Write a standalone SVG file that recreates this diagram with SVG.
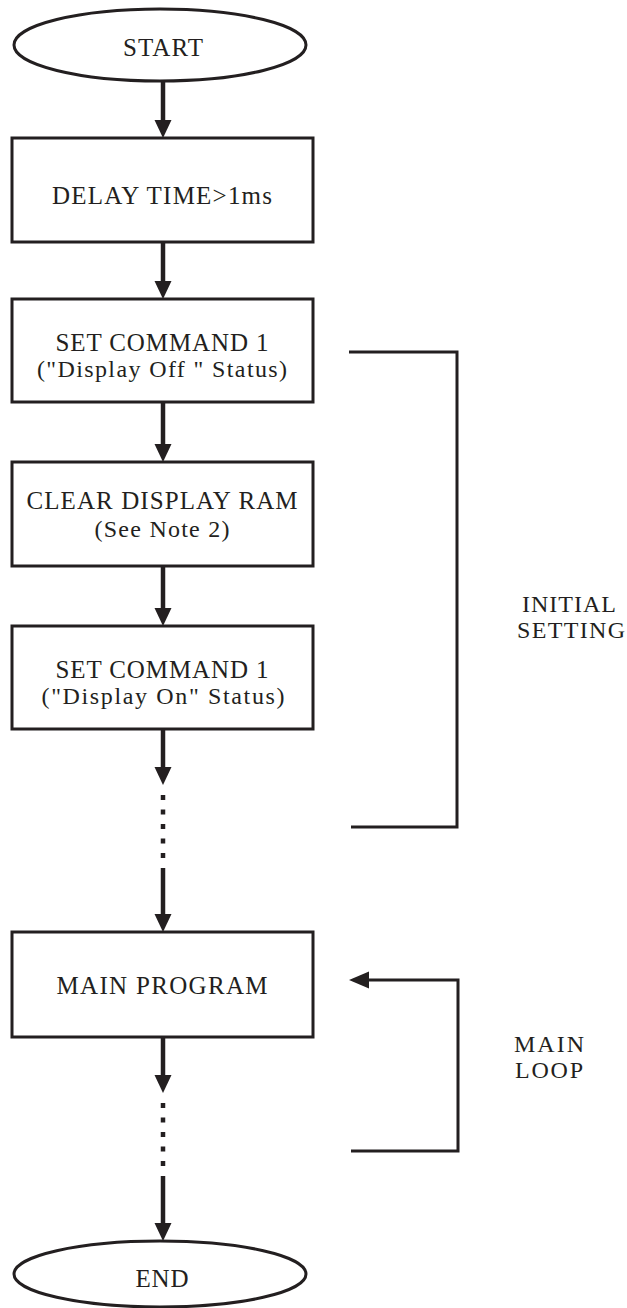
<svg xmlns="http://www.w3.org/2000/svg" width="627" height="1308" viewBox="0 0 627 1308">
<style>
.shape{fill:#fff;stroke:#231f20;stroke-width:3}
text{font-family:'Liberation Serif','DejaVu Serif',serif;fill:#231f20;text-anchor:middle}
.t{font-size:25px}
.t2{font-size:24px}
.lb{font-size:24px}
.ln{stroke:#231f20;stroke-width:4.5;fill:none}
.dot{stroke:#231f20;stroke-width:4.5;fill:none;stroke-dasharray:5 9.5}
.br{stroke:#231f20;stroke-width:3;fill:none}
.hd{fill:#231f20}
</style>
<rect width="627" height="1308" fill="#fff"/>
<g id="start">
<ellipse class="shape" cx="160" cy="45" rx="146" ry="36"/>
<text class="t" x="163" y="56" textLength="80" lengthAdjust="spacing">START</text>
</g>
<g id="delay">
<rect class="shape" x="12" y="138" width="301" height="104"/>
<text class="t" x="162" y="204" textLength="220" lengthAdjust="spacing">DELAY TIME&gt;1ms</text>
</g>
<g id="set1">
<rect class="shape" x="12" y="299" width="301" height="103"/>
<text class="t" x="162" y="351" textLength="213" lengthAdjust="spacing">SET COMMAND 1</text>
<text class="t2" x="162" y="377" textLength="250" lengthAdjust="spacing">("Display Off " Status)</text>
</g>
<g id="clear">
<rect class="shape" x="12" y="462" width="301" height="104"/>
<text class="t" x="162" y="509" textLength="271" lengthAdjust="spacing">CLEAR DISPLAY RAM</text>
<text class="t2" x="162" y="537" textLength="135" lengthAdjust="spacing">(See Note 2)</text>
</g>
<g id="set2">
<rect class="shape" x="12" y="626" width="301" height="103"/>
<text class="t" x="162" y="678" textLength="213" lengthAdjust="spacing">SET COMMAND 1</text>
<text class="t2" x="163" y="704" textLength="243" lengthAdjust="spacing">("Display On" Status)</text>
</g>
<g id="main">
<rect class="shape" x="12" y="932" width="301" height="105"/>
<text class="t" x="162" y="994" textLength="211" lengthAdjust="spacing">MAIN PROGRAM</text>
</g>
<g id="end">
<ellipse class="shape" cx="160" cy="1274" rx="146" ry="33"/>
<text class="t" x="162" y="1287" textLength="53" lengthAdjust="spacing">END</text>
</g>
<g id="initial-label">
<text class="lb" x="569" y="612" textLength="94" lengthAdjust="spacing">INITIAL</text>
<text class="lb" x="571" y="638" textLength="108" lengthAdjust="spacing">SETTING</text>
</g>
<g id="loop-label">
<text class="lb" x="549" y="1052" textLength="70" lengthAdjust="spacing">MAIN</text>
<text class="lb" x="549" y="1078" textLength="68" lengthAdjust="spacing">LOOP</text>
</g>
<g id="connectors">
<line class="ln" x1="163" y1="81" x2="163" y2="122"/>
<polygon class="hd" points="154.5,120 171.5,120 163,138"/>
<line class="ln" x1="163" y1="242" x2="163" y2="283"/>
<polygon class="hd" points="154.5,281 171.5,281 163,299"/>
<line class="ln" x1="163" y1="402" x2="163" y2="446"/>
<polygon class="hd" points="154.5,444 171.5,444 163,462"/>
<line class="ln" x1="163" y1="566" x2="163" y2="610"/>
<polygon class="hd" points="154.5,608 171.5,608 163,626"/>
<line class="ln" x1="163" y1="729" x2="163" y2="769"/>
<polygon class="hd" points="154.5,767 171.5,767 163,785"/>
<line class="dot" x1="163" y1="795" x2="163" y2="862"/>
<line class="ln" x1="163" y1="868" x2="163" y2="916"/>
<polygon class="hd" points="154.5,914 171.5,914 163,932"/>
<line class="ln" x1="163" y1="1037" x2="163" y2="1077"/>
<polygon class="hd" points="154.5,1075 171.5,1075 163,1093"/>
<line class="dot" x1="163" y1="1103" x2="163" y2="1170"/>
<line class="ln" x1="163" y1="1176" x2="163" y2="1225"/>
<polygon class="hd" points="154.5,1223 171.5,1223 163,1241"/>
<polyline class="br" points="349,352 457,352 457,827 351,827"/>
<polyline class="br" points="367,980 458,980 458,1151 351,1151"/>
<polygon class="hd" points="369,971.5 369,988.5 349,980"/>
</g>
</svg>
